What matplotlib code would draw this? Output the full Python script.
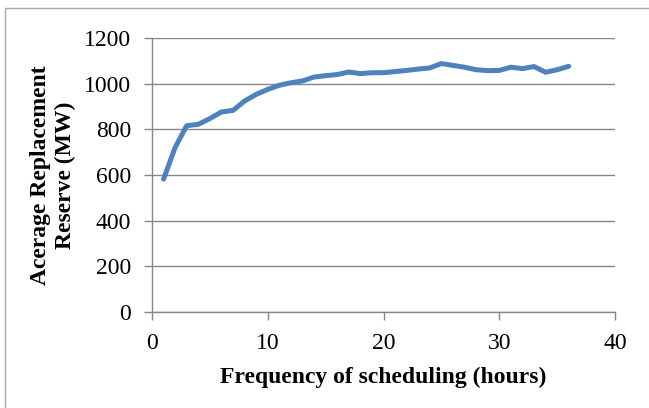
import matplotlib.pyplot as plt
from matplotlib.patches import Rectangle

plt.rcParams["font.family"] = ["Liberation Serif", "DejaVu Serif"]

# hours of scheduling frequency and average replacement reserve (MW)
hours = list(range(1, 37))
reserve = [582, 721, 816, 822, 847, 876, 883, 924, 953, 975,
           993, 1004, 1012, 1029, 1035, 1040, 1051, 1044, 1048, 1048,
           1053, 1058, 1064, 1069, 1088, 1080, 1072, 1061, 1057, 1058,
           1072, 1066, 1075, 1050, 1061, 1076]
xticks = [0, 10, 20, 30, 40]
yticks = [0, 200, 400, 600, 800, 1000, 1200]

fig = plt.figure(figsize=(6.49, 4.08), dpi=100)
ax = fig.add_axes([152 / 649, 1 - 312 / 408, 463 / 649, 274 / 408])

# light frame around the chart, as in the original
fig.patches.append(Rectangle((5 / 649, -0.1), 1.2, 1 - 8 / 408 + 0.1,
                             transform=fig.transFigure, fill=False,
                             edgecolor="#a6a6a6", linewidth=1))

ax.plot(hours, reserve, color="#4f81bd", linewidth=3.6,
        solid_capstyle="round", solid_joinstyle="round", zorder=3)

ax.set_xlim(0, 40)
ax.set_ylim(0, 1200)
ax.set_xticks(xticks)
ax.set_yticks(yticks)
ax.grid(axis="y", color="#868686", linewidth=1)
ax.set_axisbelow(True)
for side in ["top", "right"]:
    ax.spines[side].set_visible(False)
for side in ["left", "bottom"]:
    ax.spines[side].set_color("#868686")
    ax.spines[side].set_linewidth(1)
ax.tick_params(axis="both", direction="out", length=6, width=1,
               color="#868686", labelsize=17)
ax.tick_params(axis="x", pad=9)
ax.tick_params(axis="y", pad=9)

ax.set_xlabel("Frequency of scheduling (hours)", fontsize=17,
              fontweight="bold", labelpad=9)
ax.set_ylabel("Acerage Replacement\nReserve (MW)", fontsize=17,
              fontweight="bold", labelpad=6)

fig.savefig("out.png", dpi=100)
